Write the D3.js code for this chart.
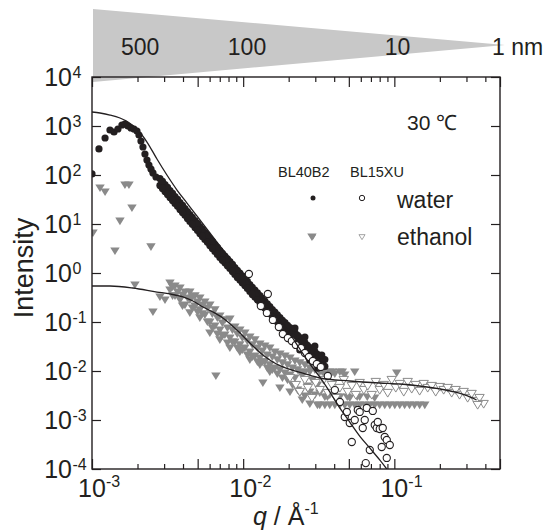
<!DOCTYPE html>
<html>
<head>
<meta charset="utf-8">
<script src="https://cdn.jsdelivr.net/npm/d3@7"></script>
<style>
body { margin: 0; background: #fff; }
text { font-family: "Liberation Sans", Arial, Helvetica, sans-serif; fill: #231f20; }
</style>
</head>
<body>
<div id="vis-container"></div>
<script>
// axis domains and ticks
var qDomain = [1e-3, 0.5];
var iDomain = [1e-4, 1e4];
var qTicksLong = [0.001, 0.005, 0.01, 0.05, 0.1, 0.5];
var qTicksShort = [0.002, 0.003, 0.004, 0.006, 0.007, 0.008, 0.009,
                   0.02, 0.03, 0.04, 0.06, 0.07, 0.08, 0.09, 0.2, 0.3, 0.4];
var qLabelExps = [-3, -2, -1];
var iLabelExps = [-4, -3, -2, -1, 0, 1, 2, 3, 4];

// real-space size scale on top (nm)
var dLabels = ["500", "100", "10"];
var dLabelQ = [2.08e-3, 1.06e-2, 0.105];

// water, BL40B2 (filled circles)  [q, I]
var waterBL40B2 = [
  [1.00e-3,105],[1.112e-3,340],[1.22e-3,569],[1.315e-3,828],[1.398e-3,755],[1.485e-3,869],
  [1.578e-3,1047],[1.652e-3,1099],[1.729e-3,1000],[1.81e-3,910],[1.895e-3,869],[1.983e-3,790],
  [2.045e-3,655],[2.108e-3,494],[2.173e-3,373],[2.24e-3,268],[2.31e-3,202],[2.38e-3,160],
  [2.455e-3,132],[2.53e-3,110],[2.65e-3,91],
  [2.815e-3,84.5],[3.04e-3,63.8],[3.28e-3,48.1],[3.54e-3,36.3],[3.82e-3,27.4],[4.12e-3,20.7],
  [4.44e-3,15.6],[4.80e-3,11.7],[5.17e-3,8.87],[5.58e-3,6.68],[6.02e-3,5.04],[6.50e-3,3.80],
  [7.01e-3,2.87],[7.57e-3,2.22],[8.17e-3,1.71],[8.81e-3,1.29],[9.51e-3,0.998],[1.026e-2,0.769],
  [1.107e-2,0.581],[1.195e-2,0.449],[1.29e-2,0.346],[1.39e-2,0.267],[1.50e-2,0.207],[1.62e-2,0.160],
  [1.75e-2,0.123],[1.89e-2,0.0973],[2.04e-2,0.0769],[2.20e-2,0.0608],[2.37e-2,0.0481],[2.56e-2,0.0380],
  [2.76e-2,0.0301],[2.98e-2,0.0249],[3.21e-2,0.0207],[3.47e-2,0.0171],
  [2.815e-3,61.2],[3.04e-3,46.2],[3.28e-3,34.8],[3.54e-3,26.3],[3.82e-3,19.8],[4.12e-3,15.0],
  [4.44e-3,11.3],[4.80e-3,8.51],[5.17e-3,6.43],[5.58e-3,4.84],[6.02e-3,3.65],[6.50e-3,2.75],
  [7.01e-3,2.08],[7.57e-3,1.61],[8.17e-3,1.24],[8.81e-3,0.935],[9.51e-3,0.723],[1.026e-2,0.557],
  [1.107e-2,0.421],[1.195e-2,0.325],[1.29e-2,0.251],[1.39e-2,0.194],[1.50e-2,0.150],[1.62e-2,0.116],
  [1.75e-2,0.0891],[1.89e-2,0.0705],[2.04e-2,0.0557],[2.20e-2,0.0441],[2.37e-2,0.0348],[2.56e-2,0.0275],
  [2.76e-2,0.0218],[2.98e-2,0.0180],[3.21e-2,0.0150],[3.47e-2,0.0124],
  [2.925e-3,62.8],[3.16e-3,47.4],[3.41e-3,35.7],[3.68e-3,27.0],[3.97e-3,20.3],[4.28e-3,15.3],
  [4.61e-3,11.6],[4.99e-3,8.73],[5.37e-3,6.59],[5.80e-3,4.97],[6.25e-3,3.75],[6.75e-3,2.82],
  [7.28e-3,2.13],[7.87e-3,1.65],[8.49e-3,1.27],[9.15e-3,0.959],[9.88e-3,0.741],[1.066e-2,0.572],
  [1.150e-2,0.431],[1.242e-2,0.333],[1.340e-2,0.257],[1.444e-2,0.199],[1.559e-2,0.153],[1.683e-2,0.119],
  [1.818e-2,0.0915],[1.964e-2,0.0723],[2.12e-2,0.0572],[2.29e-2,0.0452],[2.46e-2,0.0357],[2.66e-2,0.0282],
  [2.87e-2,0.0223],[3.10e-2,0.0185],[3.34e-2,0.0153],
  [2.925e-3,74.0],[3.16e-3,55.9],[3.41e-3,42.1],[3.68e-3,31.8],[3.97e-3,23.9],[4.28e-3,18.0],
  [4.61e-3,13.7],[4.99e-3,10.3],[5.37e-3,7.77],[5.80e-3,5.86],[6.25e-3,4.42],[6.75e-3,3.32],
  [7.28e-3,2.51],[7.87e-3,1.95],[8.49e-3,1.50],[9.15e-3,1.131],[9.88e-3,0.874],[1.066e-2,0.674],
  [1.150e-2,0.508],[1.242e-2,0.393],[1.340e-2,0.303],[1.444e-2,0.235],[1.559e-2,0.180],[1.683e-2,0.140],
  [1.818e-2,0.108],[1.964e-2,0.0852],[2.12e-2,0.0674],[2.29e-2,0.0533],[2.46e-2,0.0421],[2.66e-2,0.0332],
  [2.87e-2,0.0263],[3.10e-2,0.0218],[3.34e-2,0.0180],
  [2.925e-3,53.3],[3.16e-3,40.2],[3.41e-3,30.3],[3.68e-3,22.9],[3.97e-3,17.2],[4.28e-3,13.0],
  [4.61e-3,9.84],[4.99e-3,7.40],[5.37e-3,5.59],[5.80e-3,4.22],[6.25e-3,3.18],[6.75e-3,2.39],
  [7.28e-3,1.81],[7.87e-3,1.40],[8.49e-3,1.077],[9.15e-3,0.813],[9.88e-3,0.628],[1.066e-2,0.485],
  [1.150e-2,0.366],[1.242e-2,0.282],[1.340e-2,0.218],[1.444e-2,0.169],[1.559e-2,0.130],[1.683e-2,0.101],
  [1.818e-2,0.0776],[1.964e-2,0.0613],[2.12e-2,0.0485],[2.29e-2,0.0383],[2.46e-2,0.0303],[2.66e-2,0.0239],
  [2.87e-2,0.0189],[3.10e-2,0.0157],[3.34e-2,0.0130],
  [2.20e-2,0.0755],[2.56e-2,0.0494],[2.98e-2,0.0324],[2.37e-2,0.0269],[2.76e-2,0.0168],
  [3.12e-2,0.0115],[3.31e-2,0.0212]
];

// water, BL15XU (open circles)
var waterBL15XU = [
  [1.091e-2,0.954],[1.456e-2,0.373],[1.309e-2,0.212],[1.435e-2,0.153],[1.572e-2,0.110],
  [1.722e-2,0.0791],[1.83e-2,0.0569],[1.975e-2,0.0471],[2.098e-2,0.0409],[2.23e-2,0.0340],
  [2.41e-2,0.0295],[2.56e-2,0.0233],[2.72e-2,0.0193],[2.89e-2,0.0160],[3.07e-2,0.0139],
  [3.26e-2,0.0121],[3.63e-2,0.00791],[4.04e-2,0.00409],[4.36e-2,0.00233],[4.70e-2,0.00115],
  [4.85e-2,0.00146],[5.07e-2,0.000869],[5.23e-2,0.000356],[5.47e-2,0.00100],[5.73e-2,0.00160],
  [5.90e-2,0.00146],[6.18e-2,0.000687],[6.37e-2,0.00100],[6.47e-2,0.000132],[6.57e-2,0.00176],
  [6.88e-2,0.000244],[7.20e-2,0.00153],[7.42e-2,0.00079],[7.65e-2,0.000687],[7.77e-2,0.00091],
  [8.01e-2,0.000655],[8.25e-2,0.000281],[8.38e-2,0.000687],[8.64e-2,0.00045],[8.91e-2,0.000391],
  [8.91e-2,0.000168],[9.33e-2,0.000309]
];

// ethanol, BL40B2 (filled grey triangles)
var ethanolBL40B2 = [
  [1.015e-3,6.55],[1.13e-3,54.3],[1.22e-3,45.0],[1.419e-3,2.81],[1.531e-3,11.5],[1.652e-3,62.5],
  [1.756e-3,62.5],[1.838e-3,21.2],[1.924e-3,0.569],[2.455e-3,3.40],[2.53e-3,0.160],[2.815e-3,0.324],
  [3.04e-3,0.281],[6.60e-3,0.00791],[1.35e-2,0.00569],[2.85e-2,5.43],
  [3.28e-3,0.625],[3.28e-3,0.450],[3.54e-3,0.543],[3.54e-3,0.340],[3.82e-3,0.494],[3.82e-3,0.281],
  [4.12e-3,0.409],[4.12e-3,0.222],[4.44e-3,0.409],[4.44e-3,0.281],[4.44e-3,0.153],
  [4.80e-3,0.340],[4.80e-3,0.212],[5.17e-3,0.309],[5.17e-3,0.176],[5.17e-3,0.121],
  [5.58e-3,0.256],[5.58e-3,0.139],[6.02e-3,0.222],[6.02e-3,0.100],[6.02e-3,0.0597],
  [6.50e-3,0.176],[6.50e-3,0.0828],[7.01e-3,0.1325],[7.01e-3,0.0687],[7.01e-3,0.0430],
  [7.57e-3,0.110],[7.57e-3,0.0543],[8.17e-3,0.115],[8.17e-3,0.0471],[8.17e-3,0.0295],
  [8.81e-3,0.0791],[8.81e-3,0.0391],[9.51e-3,0.0687],[9.51e-3,0.0340],[9.51e-3,0.0244],
  [1.026e-2,0.0597],[1.026e-2,0.0295],[1.107e-2,0.0494],[1.107e-2,0.0244],[1.107e-2,0.0168],
  [1.195e-2,0.0430],[1.195e-2,0.0202],[1.29e-2,0.0356],[1.29e-2,0.0184],[1.29e-2,0.0133],
  [1.39e-2,0.0324],[1.39e-2,0.0153],[1.50e-2,0.0295],[1.50e-2,0.0133],[1.50e-2,0.00954],
  [1.62e-2,0.0244],[1.62e-2,0.0115],[1.75e-2,0.0222],[1.75e-2,0.0105],[1.75e-2,0.00450],
  [1.89e-2,0.0202],[1.89e-2,0.00910],[2.04e-2,0.0184],[2.04e-2,0.00828],[2.04e-2,0.00373],
  [2.20e-2,0.0160],[2.20e-2,0.00720],[2.37e-2,0.0146],[2.37e-2,0.00954],[2.37e-2,0.00356],
  [2.56e-2,0.0133],[2.56e-2,0.00954],[2.56e-2,0.00309],[2.76e-2,0.0115],[2.76e-2,0.00954],
  [2.76e-2,0.00373],[2.76e-2,0.00212],[2.98e-2,0.0105],[2.98e-2,0.00324],
  [3.21e-2,0.00954],[3.21e-2,0.00356],[3.21e-2,0.00202],[3.47e-2,0.00869],[3.47e-2,0.00295],
  [3.47e-2,0.00202],[3.74e-2,0.00954],[3.74e-2,0.00324],[3.74e-2,0.00202],[4.04e-2,0.00869],
  [4.04e-2,0.00202],[4.36e-2,0.00954],[4.36e-2,0.00295],[4.36e-2,0.00202],[4.70e-2,0.00828],
  [4.70e-2,0.00202],[5.07e-2,0.00281],[5.07e-2,0.00202],[5.47e-2,0.00954],[5.47e-2,0.00202],
  [5.90e-2,0.00295],[5.90e-2,0.00202],[6.37e-2,0.00202],[6.87e-2,0.00202],[7.41e-2,0.00281],
  [7.41e-2,0.00202],[8.00e-2,0.00202],[8.64e-2,0.00202],[9.33e-2,0.00202],[0.1007,0.00202],
  [0.1037,0.0091],[0.1086,0.00202],[0.117,0.00202],[0.126,0.00202],[0.136,0.00202],
  [0.147,0.00202],[0.159,0.00202],
  [3.41e-3,0.518],[3.41e-3,0.340],[3.68e-3,0.409],[3.97e-3,0.356],[3.97e-3,0.212],[4.28e-3,0.309],
  [4.61e-3,0.324],[4.61e-3,0.193],[4.99e-3,0.256],[4.99e-3,0.160],[5.37e-3,0.222],[5.37e-3,0.146],
  [5.80e-3,0.193],[5.80e-3,0.100],[6.25e-3,0.146],[6.25e-3,0.0755],[6.75e-3,0.121],[6.75e-3,0.0569],
  [7.28e-3,0.0954],[7.28e-3,0.0518],[7.87e-3,0.0755],[7.87e-3,0.0373],[8.49e-3,0.0687],[8.49e-3,0.0391],
  [9.15e-3,0.0569],[9.15e-3,0.0295],[9.88e-3,0.0471],[9.88e-3,0.0269],[1.066e-2,0.0409],[1.066e-2,0.0212],
  [1.150e-2,0.0340],[1.150e-2,0.0193],[1.242e-2,0.0295],[1.242e-2,0.0153],[1.340e-2,0.0256],[1.340e-2,0.0153],
  [1.444e-2,0.0212],[1.444e-2,0.0115],[1.559e-2,0.0193],[1.559e-2,0.0105],[1.683e-2,0.0168],[1.683e-2,0.00869],
  [1.818e-2,0.0146],[1.818e-2,0.00720],[1.964e-2,0.0133],[1.964e-2,0.00655],[2.12e-2,0.0115],[2.12e-2,0.00518],
  [2.29e-2,0.0105],[2.29e-2,0.00409],[2.46e-2,0.00828],[2.46e-2,0.00256],[2.66e-2,0.00494],
  [2.87e-2,0.00655],[2.87e-2,0.00281],[3.10e-2,0.00202],[3.10e-2,0.00518],
  [3.34e-2,0.00954],[3.89e-2,0.00954],[4.53e-2,0.00954],
  [3.61e-2,0.00295],[4.20e-2,0.00295],[4.88e-2,0.00295],[5.68e-2,0.00295],[6.62e-2,0.00295]
];

// ethanol, BL15XU (open grey triangles)
var ethanolBL15XU = [
  [2.04e-2,0.00720],[2.23e-2,0.00518],[2.37e-2,0.00373],[2.56e-2,0.00655],[2.68e-2,0.00450],
  [2.85e-2,0.00281],[3.02e-2,0.00569],[3.21e-2,0.00409],[3.41e-2,0.00655],[3.63e-2,0.00356],
  [3.86e-2,0.00518],[4.10e-2,0.00281],[4.36e-2,0.00450],[4.63e-2,0.00655],[4.92e-2,0.00373],
  [5.23e-2,0.00494],[5.56e-2,0.00324],[5.90e-2,0.00569],[6.28e-2,0.00409],[6.67e-2,0.00494],
  [7.09e-2,0.00324],[7.54e-2,0.00597],[8.00e-2,0.00409],[8.51e-2,0.00518],[9.04e-2,0.00356],
  [9.61e-2,0.00655],[0.1022,0.00450],[0.1086,0.00543],[0.1154,0.00373],[0.1226,0.00597],
  [0.1303,0.00430],[0.1385,0.00518],[0.147,0.00391],[0.1564,0.00543],[0.1662,0.00450],
  [0.1767,0.00494],[0.1877,0.00373],[0.200,0.00471],[0.212,0.00409],[0.2254,0.00450],
  [0.2395,0.00356],[0.2545,0.00409],[0.270,0.00324],[0.2875,0.00373],[0.3055,0.00281],
  [0.3247,0.00340],[0.3451,0.00244],[0.366,0.00281],[0.3898,0.00212],[0.3557,0.00202]
];

// model curves
var waterFit = [
  [1.0e-3,1931],[1.13e-3,1841],[1.315e-3,1676],[1.531e-3,1455],[1.729e-3,1207],[1.983e-3,869],
  [2.31e-3,471],[2.69e-3,212],[3.13e-3,100],[3.65e-3,49.4],[4.25e-3,26.8],[4.94e-3,14.6],
  [5.75e-3,7.91],[7.01e-3,3.56],[9.51e-3,1.15],[1.29e-2,0.373],[1.75e-2,0.110],[2.04e-2,0.0569],
  [2.37e-2,0.0281],[2.76e-2,0.0139],[3.21e-2,0.00755],[3.74e-2,0.00373],[4.36e-2,0.00176],
  [5.07e-2,0.00091],[5.90e-2,0.000471],[6.87e-2,0.000269],[8.00e-2,0.000153],[8.91e-2,0.0001]
];
var ethanolFit = [
  [1.0e-3,0.543],[1.315e-3,0.543],[1.866e-3,0.494],[2.69e-3,0.409],[3.28e-3,0.373],[3.996e-3,0.324],
  [4.65e-3,0.268],[5.42e-3,0.202],[6.31e-3,0.160],[7.34e-3,0.121],[9.09e-3,0.0687],[1.107e-2,0.0373],
  [1.35e-2,0.0212],[1.572e-2,0.0153],[1.83e-2,0.0121],[2.48e-2,0.0091],[3.21e-2,0.0072],
  [5.07e-2,0.00625],[8.0e-2,0.00569],[0.1086,0.00543],[0.147,0.00494],[0.2,0.0043],
  [0.251,0.00373],[0.292,0.00324],[0.350,0.00256]
];

var width = 550;
var height = 532;
var margins = { top: 77, right: 50, bottom: 63, left: 92 };
var grey = "#8a8a8a";
var ink = "#231f20";

var svg = d3.select("#vis-container").append("svg")
    .attr("width", width)
    .attr("height", height);

var x = d3.scaleLog().domain(qDomain).range([margins.left, width - margins.right]);
var y = d3.scaleLog().domain(iDomain).range([height - margins.bottom, margins.top]);
var x0 = x.range()[0], x1 = x.range()[1], yTop = y.range()[1], yBot = y.range()[0];

// grey wedge with length scale
svg.append("polygon")
    .attr("points", [[x0 + 1, 9], [x1 + 5, 45], [x0 + 1, 82]].map(p => p.join(",")).join(" "))
    .attr("fill", "#c8c8c8");

svg.selectAll(".dlab").data(dLabels).enter().append("text")
    .attr("x", (d, i) => x(dLabelQ[i]))
    .attr("y", 55)
    .attr("text-anchor", "middle")
    .attr("font-size", 23)
    .text(d => d);
svg.append("text").attr("x", x1 - 8).attr("y", 55).attr("font-size", 23).text("1 nm");

svg.append("clipPath").attr("id", "clip").append("rect")
    .attr("x", x0).attr("y", yTop).attr("width", x1 - x0).attr("height", yBot - yTop);

var plot = svg.append("g").attr("clip-path", "url(#clip)");

var tri = "M-4.7,-3.6L4.7,-3.6L0,4.1Z";

plot.selectAll(".eth40").data(ethanolBL40B2).enter().append("path")
    .attr("d", tri)
    .attr("transform", d => "translate(" + x(d[0]) + "," + y(d[1]) + ")")
    .attr("fill", grey);

plot.selectAll(".eth15").data(ethanolBL15XU).enter().append("path")
    .attr("d", tri)
    .attr("transform", d => "translate(" + x(d[0]) + "," + y(d[1]) + ")")
    .attr("fill", "#fff")
    .attr("stroke", grey)
    .attr("stroke-width", 1);

plot.selectAll(".w40").data(waterBL40B2).enter().append("circle")
    .attr("cx", d => x(d[0])).attr("cy", d => y(d[1]))
    .attr("r", 3.6)
    .attr("fill", ink);

plot.selectAll(".w15").data(waterBL15XU).enter().append("circle")
    .attr("cx", d => x(d[0])).attr("cy", d => y(d[1]))
    .attr("r", 3.6)
    .attr("fill", "#fff")
    .attr("stroke", ink)
    .attr("stroke-width", 1.1);

var lineGen = d3.line().x(d => x(d[0])).y(d => y(d[1])).curve(d3.curveMonotoneX);
[waterFit, ethanolFit].forEach(function (s) {
    plot.append("path").attr("d", lineGen(s))
        .attr("fill", "none").attr("stroke", ink).attr("stroke-width", 1.3);
});

// axes: ticks point inwards
function ticks(g) {
    g.select(".domain").remove();
    g.selectAll("line").attr("stroke", ink).attr("stroke-width", 1.2);
}
svg.append("g").attr("transform", "translate(0," + yBot + ")")
    .call(d3.axisBottom(x).tickValues(qTicksLong).tickSize(-10).tickFormat("")).call(ticks);
svg.append("g").attr("transform", "translate(0," + yBot + ")")
    .call(d3.axisBottom(x).tickValues(qTicksShort).tickSize(-5).tickFormat("")).call(ticks);
svg.append("g").attr("transform", "translate(0," + yTop + ")")
    .call(d3.axisTop(x).tickValues(qTicksLong).tickSize(-10).tickFormat("")).call(ticks);
svg.append("g").attr("transform", "translate(0," + yTop + ")")
    .call(d3.axisTop(x).tickValues(qTicksShort).tickSize(-5).tickFormat("")).call(ticks);
var iTicks = iLabelExps.map(e => Math.pow(10, e));
svg.append("g").attr("transform", "translate(" + x0 + ",0)")
    .call(d3.axisLeft(y).tickValues(iTicks).tickSize(-9).tickFormat("")).call(ticks);
svg.append("g").attr("transform", "translate(" + x1 + ",0)")
    .call(d3.axisRight(y).tickValues(iTicks).tickSize(-9).tickFormat("")).call(ticks);

svg.append("rect")
    .attr("x", x0).attr("y", yTop).attr("width", x1 - x0).attr("height", yBot - yTop)
    .attr("fill", "none").attr("stroke", ink).attr("stroke-width", 1.4);

// tick labels with superscripts
iLabelExps.forEach(function (e) {
    var py = y(Math.pow(10, e));
    svg.append("text").attr("x", 72).attr("y", py + 8.5).attr("text-anchor", "end")
        .attr("font-size", 25).text("10");
    svg.append("text").attr("x", 72.5).attr("y", py + 1).attr("font-size", 16).text(e);
});
qLabelExps.forEach(function (e) {
    var px = x(Math.pow(10, e));
    svg.append("text").attr("x", px).attr("y", 497).attr("text-anchor", "middle")
        .attr("font-size", 25).text("10");
    svg.append("text").attr("x", px + 14).attr("y", 487).attr("font-size", 16).text(e);
});

// axis titles
svg.append("text")
    .attr("transform", "translate(33,268) rotate(-90)")
    .attr("text-anchor", "middle")
    .attr("font-size", 27)
    .text("Intensity");

var xt = svg.append("text").attr("x", 253).attr("y", 525).attr("font-size", 25);
xt.append("tspan").attr("font-style", "italic").text("q");
xt.append("tspan").text(" / Å");
xt.append("tspan").attr("font-size", 16).attr("dy", -11).text("-1");

// annotations and legend
svg.append("text").attr("x", 407).attr("y", 130).attr("font-size", 21).text("30 ℃");
svg.append("text").attr("x", 278).attr("y", 177).attr("font-size", 14.5).text("BL40B2");
svg.append("text").attr("x", 350).attr("y", 177).attr("font-size", 14.5).text("BL15XU");

var legend = svg.append("g");
legend.append("circle").attr("cx", 313).attr("cy", 198).attr("r", 2.5).attr("fill", ink);
legend.append("circle").attr("cx", 362).attr("cy", 198).attr("r", 2.7)
    .attr("fill", "#fff").attr("stroke", ink).attr("stroke-width", 1);
legend.append("text").attr("x", 397).attr("y", 208).attr("font-size", 23).text("water");
legend.append("path").attr("d", tri).attr("transform", "translate(313,237) scale(0.65)").attr("fill", grey);
legend.append("path").attr("d", tri).attr("transform", "translate(362,237) scale(0.65)")
    .attr("fill", "#fff").attr("stroke", grey).attr("stroke-width", 1.2);
legend.append("text").attr("x", 397).attr("y", 245).attr("font-size", 23).text("ethanol");
</script>
</body>
</html>
